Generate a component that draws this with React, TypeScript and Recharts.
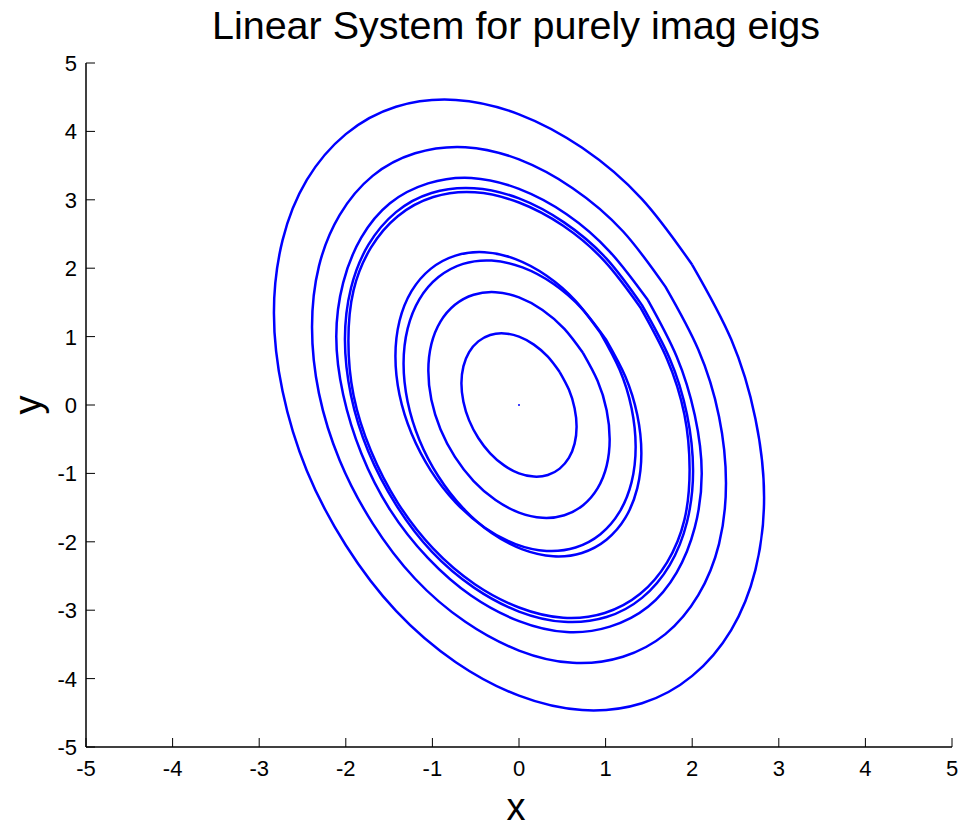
import { LineChart, Line, XAxis, YAxis } from 'recharts';

const ring1 = [
  { x: 2.0, y: 2.05 }, { x: 1.42, y: 3.01 }, { x: 0.73, y: 3.76 }, { x: 0.0, y: 4.25 },
  { x: -0.73, y: 4.46 }, { x: -1.42, y: 4.36 }, { x: -2.0, y: 3.96 }, { x: -2.45, y: 3.29 },
  { x: -2.73, y: 2.41 }, { x: -2.83, y: 1.35 }, { x: -2.73, y: 0.2 }, { x: -2.45, y: -0.96 },
  { x: -2.0, y: -2.05 }, { x: -1.42, y: -3.01 }, { x: -0.73, y: -3.76 }, { x: 0.0, y: -4.25 },
  { x: 0.73, y: -4.46 }, { x: 1.42, y: -4.36 }, { x: 2.0, y: -3.96 }, { x: 2.45, y: -3.29 },
  { x: 2.73, y: -2.41 }, { x: 2.83, y: -1.35 }, { x: 2.73, y: -0.2 }, { x: 2.45, y: 0.96 },
  { x: 2.0, y: 2.05 },
];

const ring2 = [
  { x: 1.69, y: 1.73 }, { x: 1.2, y: 2.54 }, { x: 0.62, y: 3.17 }, { x: 0.0, y: 3.59 },
  { x: -0.62, y: 3.77 }, { x: -1.2, y: 3.68 }, { x: -1.69, y: 3.35 }, { x: -2.07, y: 2.78 },
  { x: -2.31, y: 2.03 }, { x: -2.39, y: 1.14 }, { x: -2.31, y: 0.17 }, { x: -2.07, y: -0.81 },
  { x: -1.69, y: -1.73 }, { x: -1.2, y: -2.54 }, { x: -0.62, y: -3.17 }, { x: 0.0, y: -3.59 },
  { x: 0.62, y: -3.77 }, { x: 1.2, y: -3.68 }, { x: 1.69, y: -3.35 }, { x: 2.07, y: -2.78 },
  { x: 2.31, y: -2.03 }, { x: 2.39, y: -1.14 }, { x: 2.31, y: -0.17 }, { x: 2.07, y: 0.81 },
  { x: 1.69, y: 1.73 },
];

const ring3 = [
  { x: 1.49, y: 1.53 }, { x: 1.05, y: 2.24 }, { x: 0.55, y: 2.79 }, { x: 0.0, y: 3.16 },
  { x: -0.55, y: 3.32 }, { x: -1.05, y: 3.24 }, { x: -1.49, y: 2.95 }, { x: -1.82, y: 2.45 },
  { x: -2.03, y: 1.79 }, { x: -2.11, y: 1.0 }, { x: -2.03, y: 0.15 }, { x: -1.82, y: -0.71 },
  { x: -1.49, y: -1.53 }, { x: -1.05, y: -2.24 }, { x: -0.55, y: -2.79 }, { x: 0.0, y: -3.16 },
  { x: 0.55, y: -3.32 }, { x: 1.05, y: -3.24 }, { x: 1.49, y: -2.95 }, { x: 1.82, y: -2.45 },
  { x: 2.03, y: -1.79 }, { x: 2.11, y: -1.0 }, { x: 2.03, y: -0.15 }, { x: 1.82, y: 0.71 },
  { x: 1.49, y: 1.53 },
];

const ring4 = [
  { x: 1.42, y: 1.46 }, { x: 1.01, y: 2.14 }, { x: 0.52, y: 2.67 }, { x: 0.0, y: 3.02 },
  { x: -0.52, y: 3.17 }, { x: -1.01, y: 3.1 }, { x: -1.42, y: 2.82 }, { x: -1.74, y: 2.34 },
  { x: -1.94, y: 1.71 }, { x: -2.01, y: 0.96 }, { x: -1.94, y: 0.14 }, { x: -1.74, y: -0.68 },
  { x: -1.42, y: -1.46 }, { x: -1.01, y: -2.14 }, { x: -0.52, y: -2.67 }, { x: 0.0, y: -3.02 },
  { x: 0.52, y: -3.17 }, { x: 1.01, y: -3.1 }, { x: 1.42, y: -2.82 }, { x: 1.74, y: -2.34 },
  { x: 1.94, y: -1.71 }, { x: 2.01, y: -0.96 }, { x: 1.94, y: -0.14 }, { x: 1.74, y: 0.68 },
  { x: 1.42, y: 1.46 },
];

const ring5 = [
  { x: 1.4, y: 1.43 }, { x: 0.99, y: 2.1 }, { x: 0.51, y: 2.62 }, { x: 0.0, y: 2.96 },
  { x: -0.51, y: 3.11 }, { x: -0.99, y: 3.04 }, { x: -1.4, y: 2.76 }, { x: -1.71, y: 2.3 },
  { x: -1.91, y: 1.68 }, { x: -1.97, y: 0.94 }, { x: -1.91, y: 0.14 }, { x: -1.71, y: -0.67 },
  { x: -1.4, y: -1.43 }, { x: -0.99, y: -2.1 }, { x: -0.51, y: -2.62 }, { x: 0.0, y: -2.96 },
  { x: 0.51, y: -3.11 }, { x: 0.99, y: -3.04 }, { x: 1.4, y: -2.76 }, { x: 1.71, y: -2.3 },
  { x: 1.91, y: -1.68 }, { x: 1.97, y: -0.94 }, { x: 1.91, y: -0.14 }, { x: 1.71, y: 0.67 },
  { x: 1.4, y: 1.43 },
];

const ring6 = [
  { x: 0.94, y: 1.055 }, { x: 0.653, y: 1.523 }, { x: 0.319, y: 1.89 }, { x: -0.04, y: 2.133 },
  { x: -0.399, y: 2.233 }, { x: -0.733, y: 2.184 }, { x: -1.02, y: 1.99 }, { x: -1.241, y: 1.664 },
  { x: -1.38, y: 1.228 }, { x: -1.427, y: 0.712 }, { x: -1.38, y: 0.149 }, { x: -1.241, y: -0.418 },
  { x: -1.02, y: -0.955 }, { x: -0.733, y: -1.423 }, { x: -0.399, y: -1.79 }, { x: -0.04, y: -2.033 },
  { x: 0.319, y: -2.133 }, { x: 0.653, y: -2.084 }, { x: 0.94, y: -1.89 }, { x: 1.161, y: -1.564 },
  { x: 1.3, y: -1.128 }, { x: 1.347, y: -0.612 }, { x: 1.3, y: -0.049 }, { x: 1.161, y: 0.518 },
  { x: 0.94, y: 1.055 },
];

const ring7 = [
  { x: 1.01, y: 0.945 }, { x: 0.726, y: 1.408 }, { x: 0.396, y: 1.772 }, { x: 0.04, y: 2.011 },
  { x: -0.316, y: 2.111 }, { x: -0.646, y: 2.063 }, { x: -0.93, y: 1.87 }, { x: -1.149, y: 1.548 },
  { x: -1.286, y: 1.116 }, { x: -1.333, y: 0.605 }, { x: -1.286, y: 0.048 }, { x: -1.149, y: -0.514 },
  { x: -0.93, y: -1.045 }, { x: -0.646, y: -1.508 }, { x: -0.316, y: -1.872 }, { x: 0.04, y: -2.111 },
  { x: 0.396, y: -2.211 }, { x: 0.726, y: -2.163 }, { x: 1.01, y: -1.97 }, { x: 1.229, y: -1.648 },
  { x: 1.366, y: -1.216 }, { x: 1.413, y: -0.705 }, { x: 1.366, y: -0.148 }, { x: 1.229, y: 0.414 },
  { x: 1.01, y: 0.945 },
];

const ring8 = [
  { x: 0.74, y: 0.759 }, { x: 0.524, y: 1.112 }, { x: 0.271, y: 1.39 }, { x: 0.0, y: 1.573 },
  { x: -0.271, y: 1.649 }, { x: -0.524, y: 1.612 }, { x: -0.74, y: 1.465 }, { x: -0.907, y: 1.219 },
  { x: -1.012, y: 0.89 }, { x: -1.047, y: 0.5 }, { x: -1.012, y: 0.075 }, { x: -0.907, y: -0.354 },
  { x: -0.74, y: -0.759 }, { x: -0.524, y: -1.112 }, { x: -0.271, y: -1.39 }, { x: 0.0, y: -1.573 },
  { x: 0.271, y: -1.649 }, { x: 0.524, y: -1.612 }, { x: 0.74, y: -1.465 }, { x: 0.907, y: -1.219 },
  { x: 1.012, y: -0.89 }, { x: 1.047, y: -0.5 }, { x: 1.012, y: -0.075 }, { x: 0.907, y: 0.354 },
  { x: 0.74, y: 0.759 },
];

const ring9 = [
  { x: 0.47, y: 0.482 }, { x: 0.333, y: 0.706 }, { x: 0.172, y: 0.883 }, { x: 0.0, y: 0.999 },
  { x: -0.172, y: 1.047 }, { x: -0.333, y: 1.024 }, { x: -0.47, y: 0.93 }, { x: -0.576, y: 0.774 },
  { x: -0.642, y: 0.565 }, { x: -0.665, y: 0.317 }, { x: -0.642, y: 0.048 }, { x: -0.576, y: -0.225 },
  { x: -0.47, y: -0.482 }, { x: -0.333, y: -0.706 }, { x: -0.172, y: -0.883 }, { x: 0.0, y: -0.999 },
  { x: 0.172, y: -1.047 }, { x: 0.333, y: -1.024 }, { x: 0.47, y: -0.93 }, { x: 0.576, y: -0.774 },
  { x: 0.642, y: -0.565 }, { x: 0.665, y: -0.317 }, { x: 0.642, y: -0.048 }, { x: 0.576, y: 0.225 },
  { x: 0.47, y: 0.482 },
];

// equilibrium point
const origin = [{ x: 0, y: 0 }];

const rings = [ring1, ring2, ring3, ring4, ring5, ring6, ring7, ring8, ring9];
const axisTicks = [-5, -4, -3, -2, -1, 0, 1, 2, 3, 4, 5];

const FONT = '"Liberation Sans", Arial, Helvetica, sans-serif';

function XTick({ x, y, payload }: any) {
  return (
    <g>
      <line x1={x} y1={y} x2={x} y2={y - 9} stroke="#000" />
      <text x={x} y={y + 29} textAnchor="middle" fontSize={22} fontFamily={FONT} fill="#000">
        {payload.value}
      </text>
    </g>
  );
}

function YTick({ x, y, payload }: any) {
  return (
    <g>
      <line x1={x} y1={y} x2={x + 9} y2={y} stroke="#000" />
      <text x={x - 9} y={y + 8} textAnchor="end" fontSize={22} fontFamily={FONT} fill="#000">
        {payload.value}
      </text>
    </g>
  );
}

export default function App() {
  return (
    <div style={{ position: 'absolute', left: 0, top: 0, width: 964, height: 829, background: '#fff', fontFamily: FONT }}>
      <div style={{ position: 'absolute', left: 0, width: 1032, top: 3, textAlign: 'center', fontSize: 39.5, color: '#000' }}>
        Linear System for purely imag eigs
      </div>
      <div style={{ position: 'absolute', left: 496, top: 788, width: 40, textAlign: 'center', fontSize: 38, lineHeight: 1 }}>x</div>
      <div
        style={{
          position: 'absolute', left: 8, top: 386, width: 40, textAlign: 'center', fontSize: 38, lineHeight: 1,
          transform: 'rotate(-90deg)',
        }}
      >
        y
      </div>
      <LineChart width={964} height={829} margin={{ top: 63, right: 12, left: 0, bottom: 0 }}>
        <XAxis
          type="number"
          dataKey="x"
          domain={[-5, 5]}
          ticks={axisTicks}
          allowDataOverflow
          height={82}
          tickSize={0}
          tickMargin={0}
          tickLine={false}
          axisLine={{ stroke: '#000', strokeWidth: 1.5 }}
          tick={<XTick />}
        />
        <YAxis
          type="number"
          dataKey="y"
          domain={[-5, 5]}
          ticks={axisTicks}
          allowDataOverflow
          width={86}
          tickSize={0}
          tickMargin={0}
          tickLine={false}
          axisLine={{ stroke: '#000', strokeWidth: 1.5 }}
          tick={<YTick />}
        />
        {rings.map((ring, i) => (
          <Line
            key={i}
            data={ring}
            dataKey="y"
            type="natural"
            stroke="#0000ff"
            strokeWidth={2.5}
            dot={false}
            isAnimationActive={false}
          />
        ))}
        <Line
          data={origin}
          dataKey="y"
          stroke="#0000ff"
          dot={{ r: 1, fill: '#0000ff', stroke: 'none' }}
          isAnimationActive={false}
        />
      </LineChart>
    </div>
  );
}
